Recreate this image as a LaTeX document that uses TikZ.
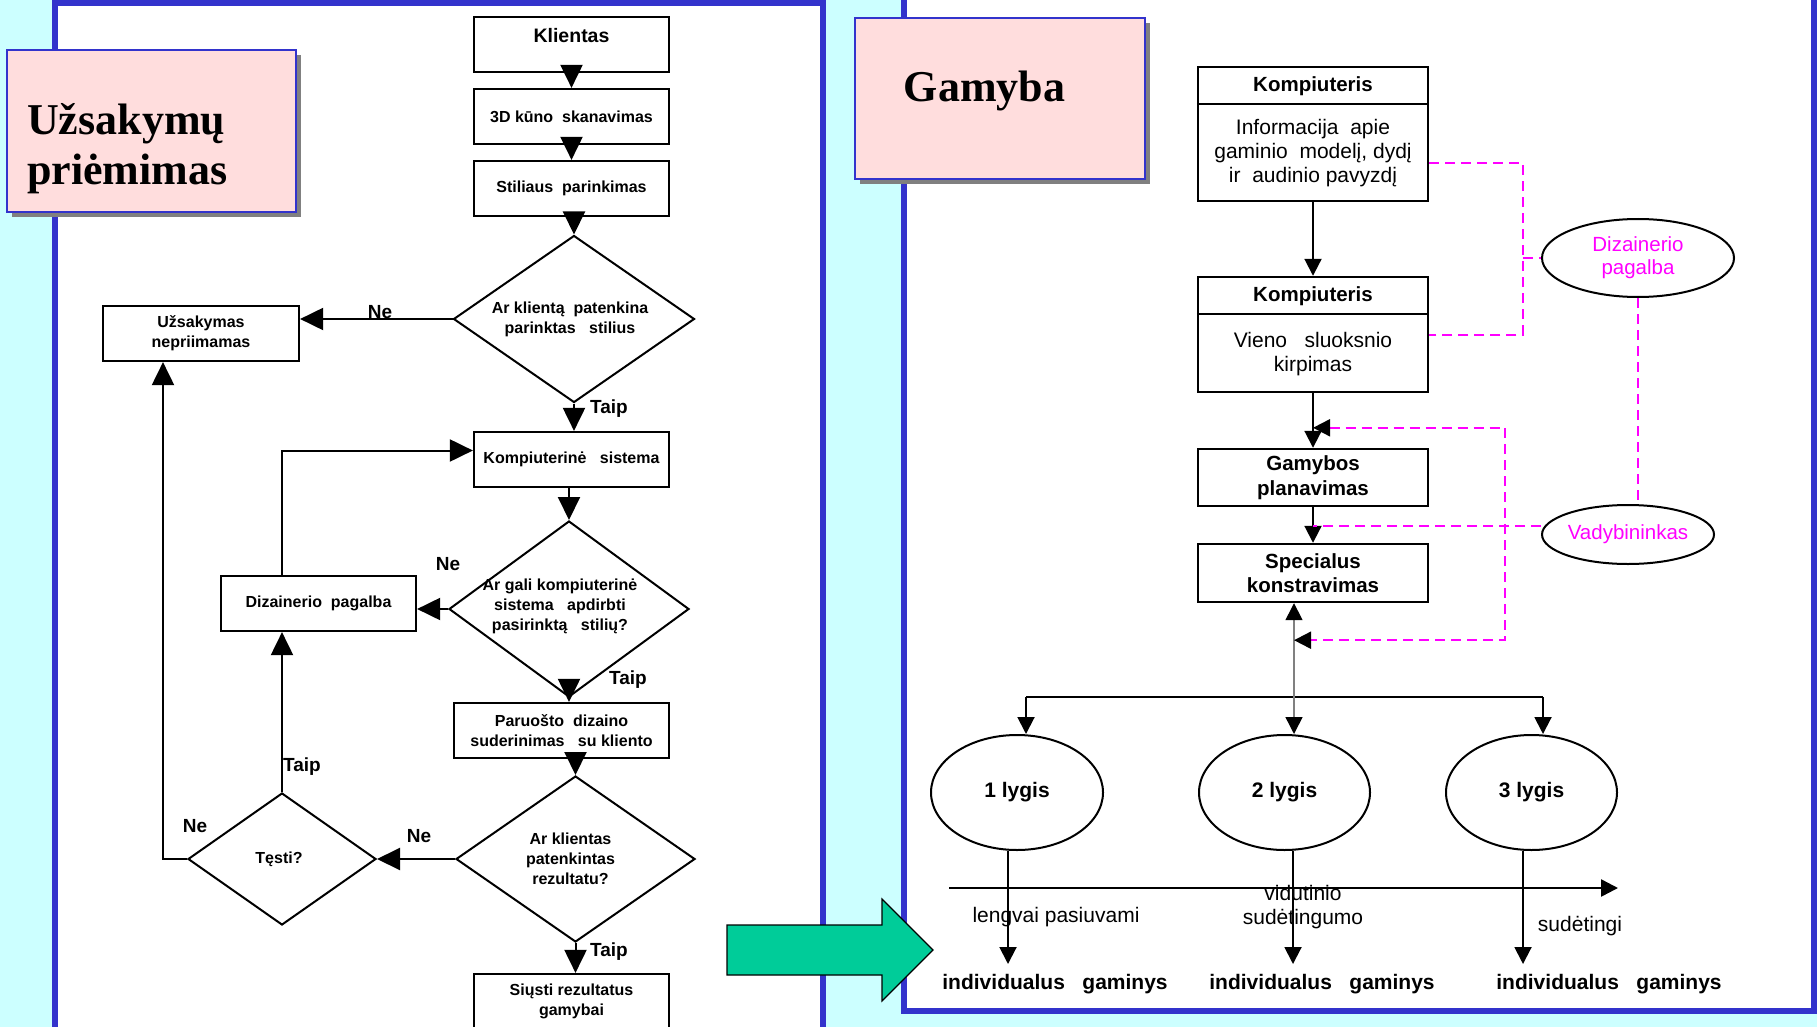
\documentclass[tikz,border=0pt]{standalone}
\usepackage{fontspec}
\setmainfont{Liberation Sans}
\newfontfamily\ttlfont{Liberation Serif}
\usetikzlibrary{shapes.geometric,arrows.meta,shadows}
\definecolor{bgc}{RGB}{204,255,255}
\definecolor{pblue}{RGB}{51,51,204}
\definecolor{tpink}{RGB}{255,221,221}
\definecolor{magc}{RGB}{255,0,255}
\definecolor{grn}{RGB}{0,204,153}
\definecolor{shad}{RGB}{128,128,128}
\begin{document}
\begin{tikzpicture}[x=1pt,y=-1pt,
  btip/.tip={Triangle[color=black,fill=black,width=17pt,length=17pt]},
  lbox/.style={draw,line width=2.2pt,fill=white,minimum width=195pt,minimum height=55pt,inner sep=0pt,align=center,font=\bfseries\fontsize{16}{20}\selectfont},
  ldia/.style={draw,diamond,line width=2pt,inner sep=0pt},
  ltxt/.style={font=\bfseries\fontsize{16}{20}\selectfont,align=center,inner sep=0pt},
  larr/.style={line width=2pt,-{Triangle[width=22pt,length=23pt]}},
  lab/.style={font=\bfseries\fontsize{19}{22}\selectfont,inner sep=0pt},
  rbox/.style={draw,line width=2.4pt,minimum width=230pt,inner sep=0pt,align=center},
  rbold/.style={font=\bfseries\fontsize{20.5}{24.5}\selectfont,align=center,inner sep=0pt},
  rreg/.style={font=\fontsize{21}{24}\selectfont,align=center,inner sep=0pt},
  rarr/.style={line width=2pt,-{Triangle[width=17pt,length=17pt]}},
  lvl/.style={draw,ellipse,line width=2pt,minimum width=171pt,minimum height=115pt,inner sep=0pt,font=\bfseries\fontsize{21}{24}\selectfont},
  mell/.style={draw,ellipse,line width=2pt,inner sep=0pt,text=magc,font=\fontsize{20.5}{23}\selectfont,align=center},
  magd/.style={magc,line width=2pt,dash pattern=on 10pt off 6pt},
  tbox/.style={draw=pblue,line width=1.8pt,fill=tpink,general shadow={fill=shad,shadow xshift=5pt,shadow yshift=-5pt}},
  ttl/.style={font=\ttlfont\bfseries\fontsize{44}{50}\selectfont,inner sep=0pt},
]
\useasboundingbox (0,0) rectangle (1817,1027);
\clip (0,0) rectangle (1817,1027);
\fill[bgc] (0,0) rectangle (1817,1027);
\draw[pblue,line width=6pt,fill=white] (55,3) rectangle (823,1080);
\draw[pblue,line width=6pt,fill=white] (903.5,-30) rectangle (1814,1011);

% titles
\node[tbox,minimum width=289pt,minimum height=162pt] (t1) at (151.5,131) {};
\node[ttl,anchor=base west] (t1a) at (27,135) {Užsakymų};
\node[ttl,anchor=base west] (t1b) at (27,185) {priėmimas};
\node[tbox,minimum width=290pt,minimum height=161pt] (t2) at (1000,98.5) {};
\node[ttl,anchor=base] (t2a) at (984.5,102) {Gamyba};

% left flowchart
\node[lbox,label={[lab,font=\bfseries\fontsize{19.5}{22}\selectfont,yshift=8.5pt]center:Klientas}] (kl) at (571.5,44.5) {};
\node[lbox] (d3d) at (571.5,116.5) {3D kūno\ \ skanavimas};
\node[lbox] (sti) at (571.5,188.5) {Stiliaus\ \ parinkimas};
\node[ldia,minimum width=241pt,minimum height=167pt,label={[ltxt,xshift=-4pt]center:Ar klientą\ \ patenkina\\parinktas\ \ \ stilius}] (d1) at (574,319) {};
\node[lbox,minimum width=196pt] (uzs) at (201,333.5) {Užsakymas\\nepriimamas};
\node[lbox] (kom) at (571.5,459.5) {Kompiuterinė\ \ \ sistema};
\node[ldia,minimum width=240pt,minimum height=176pt,label={[ltxt,xshift=-9pt,yshift=3pt]center:Ar gali kompiuterinė\\sistema\ \ \ apdirbti\\pasirinktą\ \ \ stilių?}] (d2) at (569,609) {};
\node[lbox] (diz) at (318.5,603.5) {Dizainerio\ \ pagalba};
\node[lbox,minimum width=215pt] (par) at (561.5,730.5) {Paruošto\ \ dizaino\\suderinimas\ \ \ su kliento};
\node[ldia,minimum width=239pt,minimum height=166pt,label={[ltxt,xshift=-5pt]center:Ar klientas\\patenkintas\\rezultatu?}] (d3) at (575.5,859) {};
\node[ldia,minimum width=188pt,minimum height=132pt,label={[ltxt,xshift=-3pt]center:Tęsti?}] (tes) at (282,859) {};
\node[lbox] (siu) at (571.5,1001.5) {Siųsti rezultatus\\gamybai};

\draw[larr] (kl.south) -- (d3d.north);
\draw[larr] (d3d.south) -- (sti.north);
\draw[larr] (d1.north |- sti.south) -- (d1.north);
\draw[larr] (d1.west) -- (d1.west -| uzs.east);
\draw[larr] (d1.south) -- (d1.south |- kom.north);
\draw[larr] (d2.north |- kom.south) -- (d2.north);
\draw[larr] (d2.west) -- (d2.west -| diz.east);
\draw[larr] (d2.south) -- (d2.south |- par.north);
\draw[larr] (d3.north |- par.south) -- (d3.north);
\draw[larr] (d3.west) -- (tes.east);
\draw[larr] (tes.north) -- (tes.north |- diz.south);
\draw[larr] (tes.north |- diz.north) |- ([yshift=9pt]kom.west);
\draw[larr] (tes.west) -| ([xshift=-38pt]uzs.south);
\draw[larr] (d3.south) -- (d3.south |- siu.north);

\node[lab] (ne1) at (380,312) {Ne};
\node[lab] (ta1) at (609,409) {Taip};
\node[lab] (ne2) at (448,564) {Ne};
\node[lab] (ta2) at (628,680) {Taip};
\node[lab] (ne3) at (419,836) {Ne};
\node[lab] (ne4) at (195,826) {Ne};
\node[lab] (ta4) at (302,767) {Taip};
\node[lab] (ta3) at (609,952) {Taip};

% right flowchart
\node[rbox,minimum height=134pt] (k1) at (1313,134) {};
\draw[line width=2.4pt] ([yshift=-38pt]k1.north west) -- ([yshift=-38pt]k1.north east);
\node[rbold] (k1h) at (1313,86) {Kompiuteris};
\node[rreg] (k1b) at (1313,153.5) {Informacija\ \ apie\\gaminio\ \ modelį, dydį\\ir\ \ audinio pavyzdį};
\node[rbox,minimum height=115pt] (k2) at (1313,334.5) {};
\draw[line width=2.4pt] ([yshift=-38pt]k2.north west) -- ([yshift=-38pt]k2.north east);
\node[rbold] (k2h) at (1313,296) {Kompiuteris};
\node[rreg] (k2b) at (1313,354) {Vieno\ \ \ sluoksnio\\kirpimas};
\node[rbox,minimum height=57pt,rbold] (gam) at (1313,477.5) {Gamybos\\planavimas};
\node[rbox,minimum height=58pt,rbold] (spe) at (1313,573) {Specialus\\konstravimas};
\draw[rarr] (k1.south) -- (k2.north);
\draw[rarr] (k2.south) -- (gam.north);
\draw[rarr] (gam.south) -- (spe.north);

\node[lvl,minimum width=172pt] (l1) at (1017,792.5) {1 lygis};
\node[lvl] (l2) at (1284.5,792.5) {2 lygis};
\node[lvl] (l3) at (1531.5,792.5) {3 lygis};
\coordinate (b1) at (1026,697);
\coordinate (b3) at (1543,697);
\draw[line width=2.5pt] (b1) -- (b3);
\draw[rarr] (b1) -- (b1 |- l1.north);
\draw[rarr] (b3) -- (b3 |- l3.north);
\draw[shad,line width=1.5pt,{btip}-{btip}] ([xshift=-19pt]spe.south) -- ([xshift=-19pt]spe.south |- l2.north);

\coordinate (e1) at (1008,964);
\coordinate (e2) at (1293,964);
\coordinate (e3) at (1523,964);
\draw[rarr] (e1 |- l1.south) -- (e1);
\draw[rarr] (e2 |- l2.south) -- (e2);
\draw[rarr] (e3 |- l3.south) -- (e3);
\coordinate (a0) at (949,888);
\coordinate (a1) at (1618,888);
\draw[line width=2.5pt,-{Triangle[width=17pt,length=17pt]}] (a0) -- (a1);

\node[rreg] (lp) at (1056,917) {lengvai pasiuvami};
\node[rreg] (vs) at (1303,907) {vidutinio\\sudėtingumo};
\node[rreg] (sd) at (1580,926) {sudėtingi};
\node[rbold,font=\bfseries\fontsize{21}{24}\selectfont] (ig1) at (1055,984) {individualus\ \ \ gaminys};
\node[rbold,font=\bfseries\fontsize{21}{24}\selectfont] (ig2) at (1322,984) {individualus\ \ \ gaminys};
\node[rbold,font=\bfseries\fontsize{21}{24}\selectfont] (ig3) at (1609,984) {individualus\ \ \ gaminys};

% magenta
\node[mell,minimum width=192pt,minimum height=78pt] (dzp) at (1638,258) {Dizainerio\\pagalba};
\node[mell,minimum width=172pt,minimum height=59pt] (vad) at (1628,534.5) {Vadybininkas};
\coordinate (brk) at (1523,258);
\draw[magd] ([yshift=-29pt]k1.east) -| (brk) |- (k2.east);
\draw[magd] (brk) -- (dzp.west);
\draw[magd] (dzp.south) -- (dzp.south |- vad.north);
\draw[magd] ([yshift=9pt]vad.west) -- ([yshift=9pt]vad.west -| gam.south);
\coordinate (bq) at (1505,530);
\draw[magd,{btip}-{btip}] ([yshift=20pt]gam.north) -| (bq) |- ([xshift=-19pt,yshift=-37pt]spe.south);

% green arrow
\draw[fill=grn,line width=1.2pt] (727,925) -- (882,925) -- (882,899) -- (933,950) -- (882,1001) -- (882,975) -- (727,975) -- cycle;
\end{tikzpicture}
\end{document}
